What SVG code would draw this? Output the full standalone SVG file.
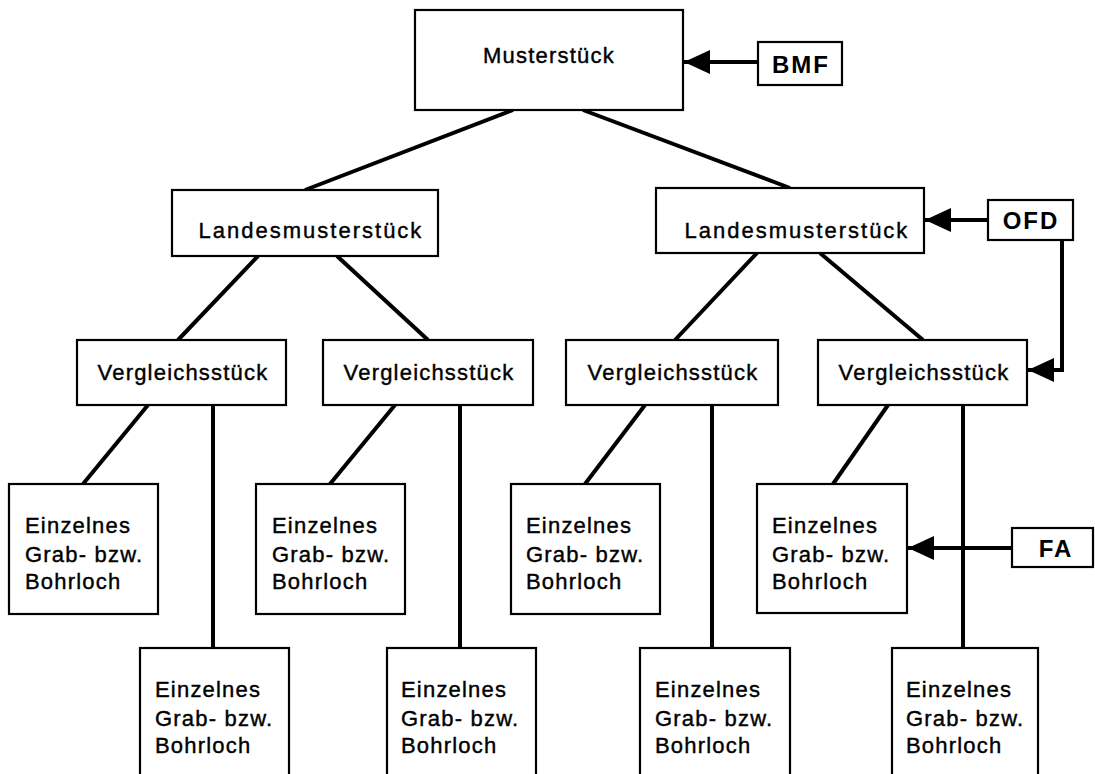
<svg xmlns="http://www.w3.org/2000/svg" width="1095" height="774" viewBox="0 0 1095 774">
<defs>
<marker id="ah" markerUnits="userSpaceOnUse" markerWidth="28" markerHeight="26" refX="26" refY="12" orient="auto">
<path d="M0,0 L26,12 L0,24 Z" fill="#000"/>
</marker>
<style>
.box{fill:#fff;stroke:#000;stroke-width:2.2}
.t{font-family:"Liberation Sans",Arial,sans-serif;font-size:22px;fill:#000;stroke:#000;stroke-width:0.4;letter-spacing:1.2px}
.tl{font-family:"Liberation Sans",Arial,sans-serif;font-size:22px;fill:#000;stroke:#000;stroke-width:0.4;letter-spacing:2px}
.b{font-family:"Liberation Sans",Arial,sans-serif;font-size:24px;font-weight:bold;fill:#000;letter-spacing:2px}
.c{stroke:#000;stroke-width:4;fill:none}
</style>
</defs>
<rect width="1095" height="774" fill="#fff"/>
<g id="connectors">
<line class="c" x1="513" y1="110" x2="305" y2="190"/>
<line class="c" x1="583" y1="110" x2="790" y2="188"/>
<line class="c" x1="258" y1="256" x2="178" y2="340"/>
<line class="c" x1="337" y1="256" x2="428" y2="340"/>
<line class="c" x1="757" y1="253" x2="675" y2="340"/>
<line class="c" x1="820" y1="253" x2="923" y2="340"/>
<line class="c" x1="148" y1="405" x2="83" y2="484"/>
<line class="c" x1="213" y1="405" x2="213" y2="648"/>
<line class="c" x1="395" y1="405" x2="330" y2="484"/>
<line class="c" x1="460" y1="405" x2="460" y2="648"/>
<line class="c" x1="645" y1="405" x2="585" y2="484"/>
<line class="c" x1="712" y1="405" x2="712" y2="648"/>
<line class="c" x1="888" y1="405" x2="833" y2="484"/>
<line class="c" x1="963" y1="405" x2="963" y2="648"/>
<line class="c" x1="758" y1="62" x2="684" y2="62" marker-end="url(#ah)"/>
<line class="c" x1="988" y1="220" x2="925" y2="220" marker-end="url(#ah)"/>
<polyline class="c" points="1062,240 1062,370 1028,370" marker-end="url(#ah)"/>
<line class="c" x1="1012" y1="548" x2="908" y2="548" marker-end="url(#ah)"/>
</g>
<g id="musterstueck"><rect class="box" x="415" y="10" width="268" height="100"/><text class="t" x="549" y="63" text-anchor="middle">Musterstück</text></g>
<g id="bmf"><rect class="box" x="758" y="42" width="84" height="43"/><text class="b" x="801" y="73" text-anchor="middle">BMF</text></g>
<g id="landes1"><rect class="box" x="172" y="190" width="266" height="66"/><text class="tl" x="311" y="238" text-anchor="middle">Landesmusterstück</text></g>
<g id="landes2"><rect class="box" x="656" y="188" width="268" height="65"/><text class="tl" x="797" y="238" text-anchor="middle">Landesmusterstück</text></g>
<g id="ofd"><rect class="box" x="988" y="200" width="85" height="40"/><text class="b" x="1031" y="229" text-anchor="middle">OFD</text></g>
<g id="vgl1"><rect class="box" x="77" y="340" width="209" height="65"/><text class="t" x="183" y="380" text-anchor="middle">Vergleichsstück</text></g>
<g id="vgl2"><rect class="box" x="323" y="340" width="210" height="65"/><text class="t" x="429" y="380" text-anchor="middle">Vergleichsstück</text></g>
<g id="vgl3"><rect class="box" x="566" y="340" width="212" height="65"/><text class="t" x="673" y="380" text-anchor="middle">Vergleichsstück</text></g>
<g id="vgl4"><rect class="box" x="818" y="340" width="209" height="65"/><text class="t" x="924" y="380" text-anchor="middle">Vergleichsstück</text></g>
<g id="fa"><rect class="box" x="1012" y="528" width="81" height="39"/><text class="b" x="1056" y="557" text-anchor="middle">FA</text></g>
<g id="grab1a"><rect class="box" x="9" y="484" width="149" height="130"/><text class="t" x="25"><tspan x="25" y="533">Einzelnes</tspan><tspan x="25" y="562">Grab- bzw.</tspan><tspan x="25" y="589">Bohrloch</tspan></text></g>
<g id="grab2a"><rect class="box" x="256" y="484" width="149" height="130"/><text class="t" x="272"><tspan x="272" y="533">Einzelnes</tspan><tspan x="272" y="562">Grab- bzw.</tspan><tspan x="272" y="589">Bohrloch</tspan></text></g>
<g id="grab3a"><rect class="box" x="511" y="484" width="149" height="130"/><text class="t" x="526"><tspan x="526" y="533">Einzelnes</tspan><tspan x="526" y="562">Grab- bzw.</tspan><tspan x="526" y="589">Bohrloch</tspan></text></g>
<g id="grab4a"><rect class="box" x="757" y="484" width="150" height="129"/><text class="t" x="772"><tspan x="772" y="533">Einzelnes</tspan><tspan x="772" y="562">Grab- bzw.</tspan><tspan x="772" y="589">Bohrloch</tspan></text></g>
<g id="grab1b"><rect class="box" x="140" y="648" width="149" height="140"/><text class="t" x="155"><tspan x="155" y="697">Einzelnes</tspan><tspan x="155" y="726">Grab- bzw.</tspan><tspan x="155" y="753">Bohrloch</tspan></text></g>
<g id="grab2b"><rect class="box" x="387" y="648" width="149" height="140"/><text class="t" x="401"><tspan x="401" y="697">Einzelnes</tspan><tspan x="401" y="726">Grab- bzw.</tspan><tspan x="401" y="753">Bohrloch</tspan></text></g>
<g id="grab3b"><rect class="box" x="640" y="648" width="150" height="140"/><text class="t" x="655"><tspan x="655" y="697">Einzelnes</tspan><tspan x="655" y="726">Grab- bzw.</tspan><tspan x="655" y="753">Bohrloch</tspan></text></g>
<g id="grab4b"><rect class="box" x="892" y="648" width="146" height="140"/><text class="t" x="906"><tspan x="906" y="697">Einzelnes</tspan><tspan x="906" y="726">Grab- bzw.</tspan><tspan x="906" y="753">Bohrloch</tspan></text></g>
</svg>
